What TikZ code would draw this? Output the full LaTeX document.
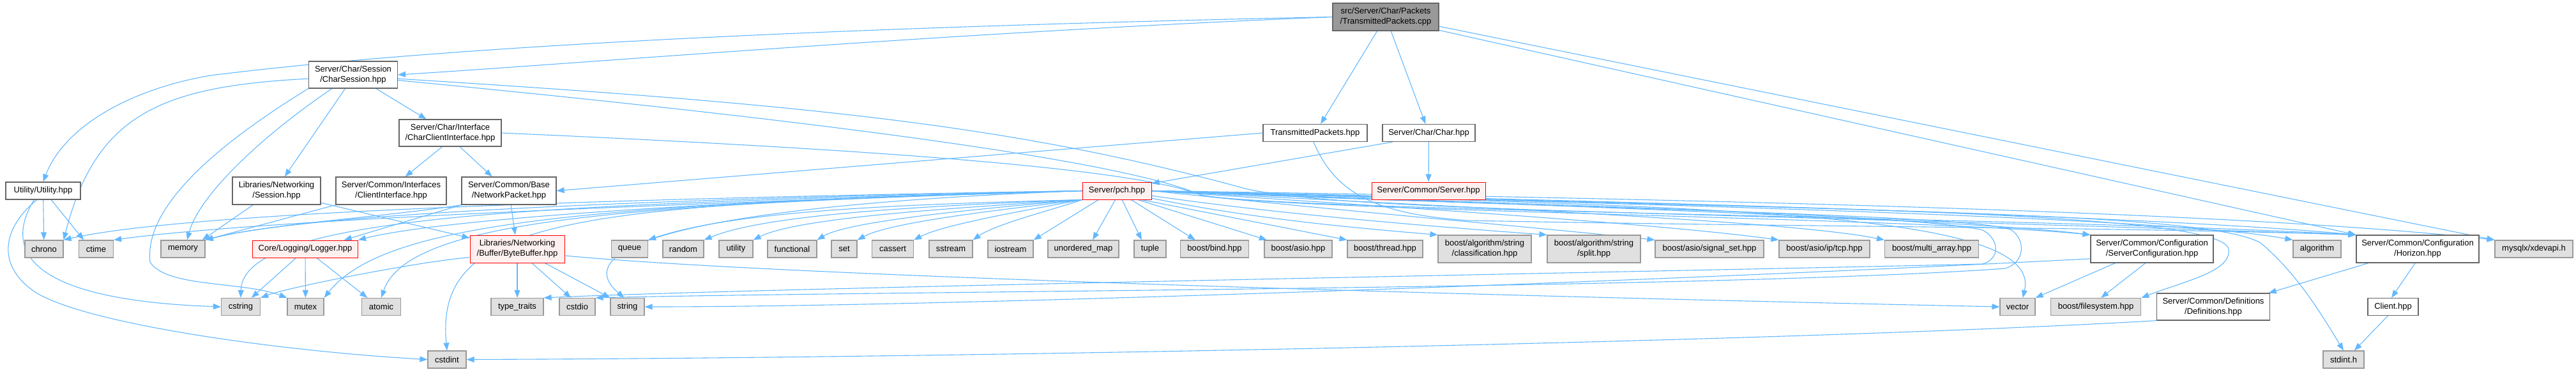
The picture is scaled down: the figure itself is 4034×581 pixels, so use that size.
\documentclass[tikz,border=0pt]{standalone}
\usepackage{fontspec}
\setmainfont{Liberation Sans}
\usetikzlibrary{arrows.meta,backgrounds}
\definecolor{edgec}{HTML}{63B8FF}
\definecolor{extfill}{HTML}{E0E0E0}
\definecolor{extdraw}{HTML}{999999}
\definecolor{normdraw}{HTML}{666666}
\definecolor{redfill}{HTML}{FFF0F0}
\definecolor{reddraw}{HTML}{FF0000}
\definecolor{rootfill}{HTML}{999999}
\tikzset{
  box/.style={draw, line width=1.2pt, inner sep=0pt, align=center,
    font=\fontsize{13}{16}\selectfont, minimum height=27pt},
  ext/.style={box, fill=extfill, draw=extdraw},
  norm/.style={box, fill=white, draw=normdraw},
  redb/.style={box, fill=redfill, draw=reddraw, line width=1pt},
  rootb/.style={box, fill=rootfill, draw=normdraw},
  edge/.style={draw=edgec, line width=1.1pt, -{Triangle[length=12pt,width=9pt]}},
}
\begin{document}
\begin{tikzpicture}[x=1pt,y=1pt]
\useasboundingbox (0,0) rectangle (4034,-581);
% ---- nodes
\node[rootb, minimum width=166pt, minimum height=43pt] (root) at (2170,-26.5) {src/Server/Char/Packets\\/TransmittedPackets.cpp};
\node[norm, minimum width=139pt, minimum height=42pt] (cs) at (553,-117) {Server/Char/Session\\/CharSession.hpp};
\node[norm, minimum width=163pt] (tph) at (2059.5,-208) {TransmittedPackets.hpp};
\node[norm, minimum width=145pt] (charh) at (2237.5,-208) {Server/Char/Char.hpp};
\node[norm, minimum width=160pt, minimum height=42pt] (cci) at (705,-208) {Server/Char/Interface\\/CharClientInterface.hpp};
\node[norm, minimum width=117pt] (util) at (67.5,-298.5) {Utility/Utility.hpp};
\node[norm, minimum width=138pt, minimum height=43pt] (sess) at (433,-298.5) {Libraries/Networking\\/Session.hpp};
\node[norm, minimum width=173pt, minimum height=43pt] (ci) at (612.5,-298.5) {Server/Common/Interfaces\\/ClientInterface.hpp};
\node[norm, minimum width=148pt, minimum height=43pt] (np) at (797,-298.5) {Server/Common/Base\\/NetworkPacket.hpp};
\node[redb, minimum width=108pt] (pch) at (1749,-298.5) {Server/pch.hpp};
\node[redb, minimum width=178pt] (server) at (2237,-298.5) {Server/Common/Server.hpp};
% row 3
\node[ext, minimum width=60pt] (chrono) at (69,-389.5) {chrono};
\node[ext, minimum width=54pt] (ctime) at (150.5,-389.5) {ctime};
\node[ext, minimum width=69pt] (memory) at (286.5,-389.5) {memory};
\node[redb, minimum width=165pt] (logger) at (478,-389.5) {Core/Logging/Logger.hpp};
\node[redb, minimum width=148pt, minimum height=43pt] (bb) at (810,-389.5) {Libraries/Networking\\/Buffer/ByteBuffer.hpp};
\node[ext, minimum width=57pt] (queue) at (986,-389.5) {queue};
\node[ext, minimum width=64pt] (random) at (1070,-389.5) {random};
\node[ext, minimum width=53pt] (utility) at (1152.5,-389.5) {utility};
\node[ext, minimum width=77pt] (functional) at (1240.5,-389.5) {functional};
\node[ext, minimum width=40pt] (set) at (1322,-389.5) {set};
\node[ext, minimum width=65pt] (cassert) at (1398,-389.5) {cassert};
\node[ext, minimum width=68pt] (sstream) at (1489,-389.5) {sstream};
\node[ext, minimum width=71pt] (iostream) at (1582.5,-389.5) {iostream};
\node[ext, minimum width=111pt] (umap) at (1696.5,-389.5) {unordered\_map};
\node[ext, minimum width=50pt] (tuple) at (1801,-389.5) {tuple};
\node[ext, minimum width=107pt] (bind) at (1902,-389.5) {boost/bind.hpp};
\node[ext, minimum width=106pt] (asio) at (2033,-389.5) {boost/asio.hpp};
\node[ext, minimum width=118pt] (thread) at (2169,-389.5) {boost/thread.hpp};
\node[ext, minimum width=146pt, minimum height=43pt] (classif) at (2325,-389.5) {boost/algorithm/string\\/classification.hpp};
\node[ext, minimum width=146pt, minimum height=43pt] (split) at (2496,-389.5) {boost/algorithm/string\\/split.hpp};
\node[ext, minimum width=170pt] (sigset) at (2677,-389.5) {boost/asio/signal\_set.hpp};
\node[ext, minimum width=142pt] (tcp) at (2857,-389.5) {boost/asio/ip/tcp.hpp};
\node[ext, minimum width=147pt] (multi) at (3025,-389.5) {boost/multi\_array.hpp};
\node[norm, minimum width=192pt, minimum height=43pt] (sconf) at (3370,-389.5) {Server/Common/Configuration\\/ServerConfiguration.hpp};
\node[ext, minimum width=75pt] (algo) at (3628.5,-389.5) {algorithm};
\node[norm, minimum width=192pt, minimum height=43pt] (horizon) at (3786,-389.5) {Server/Common/Configuration\\/Horizon.hpp};
\node[ext, minimum width=122pt] (mysqlx) at (3968,-389.5) {mysqlx/xdevapi.h};
% row 4
\node[ext, minimum width=61pt] (cstring) at (377,-480) {cstring};
\node[ext, minimum width=57pt] (mutex) at (478.5,-480) {mutex};
\node[ext, minimum width=61pt] (atomic) at (597,-480) {atomic};
\node[ext, minimum width=82pt] (typetraits) at (810,-480) {type\_traits};
\node[ext, minimum width=56pt] (cstdio) at (904,-480) {cstdio};
\node[ext, minimum width=53pt] (string) at (982.5,-480) {string};
\node[ext, minimum width=55pt] (vector) at (3159.5,-480) {vector};
\node[ext, minimum width=141.5pt] (fs) at (3282,-480) {boost/filesystem.hpp};
\node[norm, minimum width=177pt, minimum height=42pt] (defs) at (3466,-480) {Server/Common/Definitions\\/Definitions.hpp};
\node[norm, minimum width=79pt] (client) at (3747.5,-480) {Client.hpp};
% row 5
\node[ext, minimum width=60pt] (cstdint) at (700,-562.5) {cstdint};
\node[ext, minimum width=64pt] (stdint) at (3670,-562.5) {stdint.h};

\begin{pgfonlayer}{background}
% ---- root
\draw[edge] (root.west) .. controls (1500,-50) and (900,-100) .. (cs.east);
\draw[edge] (root.west) .. controls (1200,-45) and (650,-78) .. (330,-118) .. controls (200,-140) and (100,-200) .. (util.north);
\draw[edge] (root) -- (tph);
\draw[edge] (root) -- (charh);
\draw[edge] (root.-14) -- (horizon.north west);
\draw[edge] (root.-10) -- (mysqlx.north west);
% ---- CharSession
\draw[edge] (cs.185) .. controls (250,-135) and (150,-180) .. (chrono.north east);
\draw[edge] (cs.south west) .. controls (350,-220) and (225,-320) .. (235,-410) .. controls (260,-450) and (380,-440) .. (mutex.north west);
\draw[edge] (cs.-147) .. controls (400,-220) and (310,-310) .. (memory.65);
\draw[edge] (cs.-120) -- (sess.60);
\draw[edge] (cs.-31) -- (cci.150);
\draw[edge] (cs.-5) .. controls (1300,-165) and (1600,-200) .. (1950,-295) .. controls (2100,-330) and (2600,-330) .. (horizon.north west);
\draw[edge] (cs.-7) .. controls (1400,-200) and (1780,-260) .. (1880,-305) .. controls (2000,-330) and (3000,-340) .. (sconf.north west);
% ---- CharClientInterface
\draw[edge] (cci.-120) -- (ci.45);
\draw[edge] (cci.-55) -- (np.140);
\draw[edge] (cci.east) .. controls (1400,-235) and (1780,-265) .. (1880,-305) .. controls (2000,-330) and (3200,-340) .. (horizon.north west);
% ---- TransmittedPackets.hpp / Char.hpp
\draw[edge] (tph.west) -- (np.east);
\draw[edge] (tph.-100) .. controls (2090,-300) and (2150,-335) .. (2300,-345) .. controls (2800,-355) and (3300,-355) .. (horizon.north west);
\draw[edge] (charh.194) -- (pch.12);
\draw[edge] (charh) -- (server);
% ---- Utility
\draw[edge] (util) -- (chrono);
\draw[edge] (util.-48) -- (ctime.144);
\draw[edge] (util.-135) .. controls (0,-400) and (60,-470) .. (cstring.west);
\draw[edge] (util.-125) .. controls (0,-360) and (-5,-420) .. (60,-460) .. controls (150,-510) and (450,-550) .. (cstdint.west);
% ---- Session, ClientInterface, NetworkPacket
\draw[edge] (sess.-149) -- (memory.25);
\draw[edge] (sess.-15) -- (bb.167);
\draw[edge] (ci.south west) -- (memory.north east);
\draw[edge] (np.south west) .. controls (600,-340) and (420,-350) .. (memory.north east);
\draw[edge] (np.south west) -- (logger.13);
\draw[edge] (np) -- (bb);
% ---- Logger
\draw[edge] (logger.-136) -- (cstring.40);
\draw[edge] (logger) -- (mutex);
\draw[edge] (logger.-38) -- (atomic.147);
% ---- ByteBuffer
\draw[edge] (bb) -- (typetraits);
\draw[edge] (bb.-44) -- (cstdio.125);
\draw[edge] (bb.-27) -- (string.north west);
\draw[edge] (bb.190) .. controls (650,-410) and (450,-450) .. (cstring.north east);
\draw[edge] (bb.-8) .. controls (1200,-430) and (2200,-460) .. (vector.west);
% ---- ServerConfiguration, Horizon, Definitions, Client
\draw[edge] (sconf.189) .. controls (2600,-440) and (1500,-480) .. (string.east);
\draw[edge] (sconf.-159) -- (vector.north east);
\draw[edge] (sconf.-115) -- (fs.60);
\draw[edge] (horizon.-164) -- (defs.14);
\draw[edge] (horizon.-100) -- (client.100);
\draw[edge] (client.-120) -- (stdint.40);
\draw[edge] (defs.south west) .. controls (2800,-535) and (1500,-560) .. (cstdint.east);
% ---- pch fan (left)
\draw[edge] (pch.west) .. controls (1000,-310) and (300,-330) .. (chrono.north east);
\draw[edge] (pch.west) .. controls (1000,-320) and (400,-345) .. (ctime.north east);
\draw[edge] (pch.west) .. controls (1100,-310) and (500,-330) .. (memory.north east);
\draw[edge] (pch.west) .. controls (1200,-310) and (700,-340) .. (logger.north east);
\draw[edge] (pch.west) .. controls (900,-320) and (380,-330) .. (cstring.north);
\draw[edge] (pch.west) .. controls (900,-320) and (600,-350) .. (mutex.north east);
\draw[edge] (pch.west) .. controls (1000,-320) and (640,-340) .. (atomic.north);
\draw[edge] (pch.west) .. controls (900,-320) and (680,-340) .. (cstdint.north);
\draw[edge] (pch.west) .. controls (1000,-325) and (900,-400) .. (string.110);
\draw[edge] (pch.south west) .. controls (1400,-320) and (1150,-330) .. (queue.north east);
\draw[edge] (pch.south west) .. controls (1450,-322) and (1200,-335) .. (random.north east);
\draw[edge] (pch.south west) .. controls (1500,-325) and (1250,-340) .. (utility.north east);
\draw[edge] (pch.south west) .. controls (1550,-325) and (1330,-345) .. (functional.north east);
\draw[edge] (pch.south west) .. controls (1600,-325) and (1400,-345) .. (set.north east);
\draw[edge] (pch.south west) .. controls (1630,-325) and (1480,-350) .. (cassert.north east);
\draw[edge] (pch.south west) .. controls (1660,-325) and (1560,-350) .. (sstream.north east);
\draw[edge] (pch.-154) -- (iostream.north east);
\draw[edge] (pch.-100) -- (umap.44);
\draw[edge] (pch.-60) -- (tuple.133);
\draw[edge] (pch.-32) -- (bind.155);
\draw[edge] (pch.-23) -- (asio.164);
% ---- pch fan (right)
\draw[edge] (pch.-20) -- (thread.north west);
\draw[edge] (pch.-12) .. controls (1950,-340) and (2100,-355) .. (classif.north west);
\draw[edge] (pch.-8) .. controls (2000,-335) and (2250,-355) .. (split.north west);
\draw[edge] (pch.east) .. controls (2100,-330) and (2400,-355) .. (sigset.north west);
\draw[edge] (pch.east) .. controls (2200,-325) and (2600,-350) .. (tcp.north west);
\draw[edge] (pch.east) .. controls (2300,-325) and (2800,-345) .. (multi.north west);
\draw[edge] (pch.east) .. controls (2400,-320) and (3100,-345) .. (sconf.north west);
\draw[edge] (pch.east) .. controls (2600,-320) and (3400,-340) .. (algo.north west);
\draw[edge] (pch.east) .. controls (2600,-315) and (3400,-340) .. (horizon.north west);
\draw[edge] (pch.east) .. controls (2600,-310) and (3500,-330) .. (mysqlx.north west);
\draw[edge] (pch.east) .. controls (2700,-325) and (3200,-330) .. (vector.60);
\draw[edge] (pch.east) .. controls (2800,-325) and (3480,-330) .. (3490,-390) .. controls (3495,-425) and (3420,-440) .. (fs.north east);
\draw[edge] (pch.east) .. controls (2900,-330) and (3450,-330) .. (3540,-380) .. controls (3600,-430) and (3640,-500) .. (stdint.north);
\draw[edge] (pch.east) .. controls (2400,-320) and (3000,-335) .. (3105,-360) .. controls (3132,-375) and (3132,-405) .. (3105,-413) .. controls (2600,-425) and (1200,-450) .. (typetraits.north east);
\draw[edge] (pch.east) .. controls (2400,-325) and (3100,-335) .. (3150,-360) .. controls (3172,-375) and (3172,-410) .. (3140,-420) .. controls (2700,-452) and (1400,-455) .. (cstdio.north east);
\end{pgfonlayer}
\end{tikzpicture}
\end{document}
